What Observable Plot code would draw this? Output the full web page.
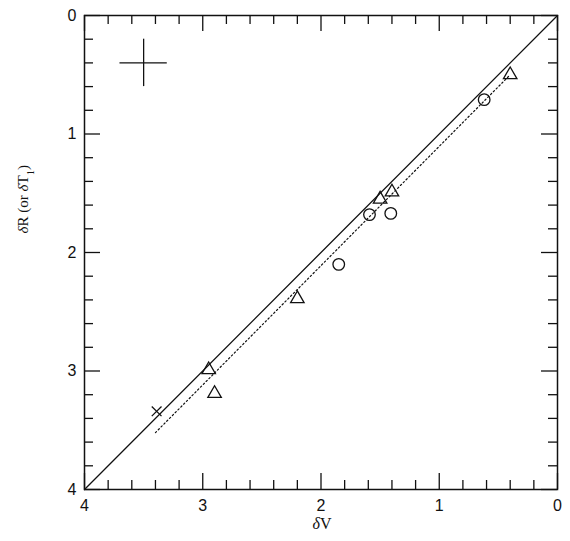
<!DOCTYPE html>
<html>
<head>
<meta charset="utf-8">
<script src="https://cdn.jsdelivr.net/npm/d3@7"></script>
<script src="https://cdn.jsdelivr.net/npm/@observablehq/plot@0.6"></script>
<style>
  html, body { margin: 0; padding: 0; background: #fff; }
  #chart svg { display: block; }
</style>
</head>
<body>
<div id="chart"></div>
<script>
// Data
const triangles = [
  {dV: 0.40, dR: 0.50},
  {dV: 1.40, dR: 1.49},
  {dV: 1.50, dR: 1.55},
  {dV: 2.20, dR: 2.39},
  {dV: 2.95, dR: 2.99},
  {dV: 2.90, dR: 3.19}
];
const circles = [
  {dV: 0.62, dR: 0.71},
  {dV: 1.59, dR: 1.68},
  {dV: 1.41, dR: 1.67},
  {dV: 1.85, dR: 2.10}
];
const crosses = [
  {dV: 3.39, dR: 3.34}
];
// one-to-one line and dotted fit line
const identityLine = [{dV: 4, dR: 4}, {dV: 0, dR: 0}];
const fitLine = [{dV: 3.40, dR: 3.52}, {dV: 0.40, dR: 0.50}];
// typical error bar shown in the corner
const errorBar = [{dV: 3.5, dR: 0.4, eV: 0.2, eR: 0.2}];
// ticks
const majorTicks = [0, 1, 2, 3, 4];
const minorTicks = [0.2, 0.4, 0.6, 0.8, 1.2, 1.4, 1.6, 1.8, 2.2, 2.4, 2.6, 2.8, 3.2, 3.4, 3.6, 3.8];
const xLabel = "δV";
const yLabel = "δR (or δT1)";

const W = 570, H = 541;
const mL = 84, mR = 13, mT = 15, mB = 52;
const pw = W - mL - mR, ph = H - mT - mB;
const majLen = 16, minLen = 9;
const tickStyle = {stroke: "#111", strokeWidth: 1.3};
const serif = "Liberation Serif, Times New Roman, serif";

const chart = Plot.plot({
  width: W,
  height: H,
  marginLeft: mL,
  marginRight: mR,
  marginTop: mT,
  marginBottom: mB,
  x: {domain: [4, 0], axis: null},
  y: {domain: [4, 0], axis: null},
  style: {background: "#fff", color: "#111"},
  marks: [
    // ticks on all four sides, pointing inward
    Plot.tickX(majorTicks, {x: d => d, insetTop: ph - majLen, ...tickStyle}),
    Plot.tickX(minorTicks, {x: d => d, insetTop: ph - minLen, ...tickStyle}),
    Plot.tickX(majorTicks, {x: d => d, insetBottom: ph - majLen, ...tickStyle}),
    Plot.tickX(minorTicks, {x: d => d, insetBottom: ph - minLen, ...tickStyle}),
    Plot.tickY(majorTicks, {y: d => d, insetRight: pw - majLen, ...tickStyle}),
    Plot.tickY(minorTicks, {y: d => d, insetRight: pw - minLen, ...tickStyle}),
    Plot.tickY(majorTicks, {y: d => d, insetLeft: pw - majLen, ...tickStyle}),
    Plot.tickY(minorTicks, {y: d => d, insetLeft: pw - minLen, ...tickStyle}),
    Plot.axisX(majorTicks, {anchor: "bottom", tickSize: 0, tickPadding: 10, tickFormat: d => String(d), label: null,
      fontSize: 16, fontFamily: "Liberation Sans, Arial, sans-serif"}),
    Plot.axisY(majorTicks, {anchor: "left", tickSize: 0, tickPadding: 8, tickFormat: d => String(d), label: null,
      fontSize: 16, fontFamily: "Liberation Sans, Arial, sans-serif"}),
    Plot.frame({stroke: "#111", strokeWidth: 1.5}),
    // lines
    Plot.line(identityLine, {x: "dV", y: "dR", stroke: "#111", strokeWidth: 1.3}),
    Plot.line(fitLine, {x: "dV", y: "dR", stroke: "#111", strokeWidth: 1.2, strokeDasharray: "1.5,2.5"}),
    // error bar cross
    Plot.ruleY(errorBar, {y: "dR", x1: d => d.dV - d.eV, x2: d => d.dV + d.eV, stroke: "#111", strokeWidth: 1.3}),
    Plot.ruleX(errorBar, {x: "dV", y1: d => d.dR - d.eR, y2: d => d.dR + d.eR, stroke: "#111", strokeWidth: 1.3}),
    // points
    Plot.dot(triangles, {x: "dV", y: "dR", symbol: "triangle", r: 5, stroke: "#111", strokeWidth: 1.3, fill: "none"}),
    Plot.dot(circles, {x: "dV", y: "dR", symbol: "circle", r: 5.8, stroke: "#111", strokeWidth: 1.3, fill: "none"}),
    Plot.dot(crosses, {x: "dV", y: "dR", symbol: "times", r: 4.5, stroke: "#111", strokeWidth: 1.3, fill: "none"}),
    // axis titles
    Plot.text([xLabel], {frameAnchor: "bottom", dy: 39, dx: 1, text: d => d, fontSize: 16,
      fontFamily: serif, fill: "#111", className: "xlab"}),
    Plot.text([yLabel], {frameAnchor: "left", dx: -61, dy: -19, rotate: -90, text: d => d, fontSize: 15,
      fontFamily: serif, fill: "#111", className: "ylab"})
  ]
});
document.getElementById("chart").appendChild(chart);

// rich formatting for axis titles: italic delta, subscript 1
function richify(textEl, parts) {
  const t = d3.select(textEl);
  t.text(null);
  for (const p of parts) {
    const s = t.append("tspan").text(p.t);
    if (p.i) s.attr("font-style", "italic");
    if (p.sub) s.attr("baseline-shift", "sub").attr("font-size", "0.7em");
  }
}
d3.select(chart).selectAll("g.xlab text").each(function() {
  richify(this, [{t: "δ", i: true}, {t: "V"}]);
});
d3.select(chart).selectAll("g.ylab text").each(function() {
  richify(this, [{t: "δ", i: true}, {t: "R (or "}, {t: "δ", i: true}, {t: "T"}, {t: "1", sub: true}, {t: ")"}]);
});
</script>
</body>
</html>
